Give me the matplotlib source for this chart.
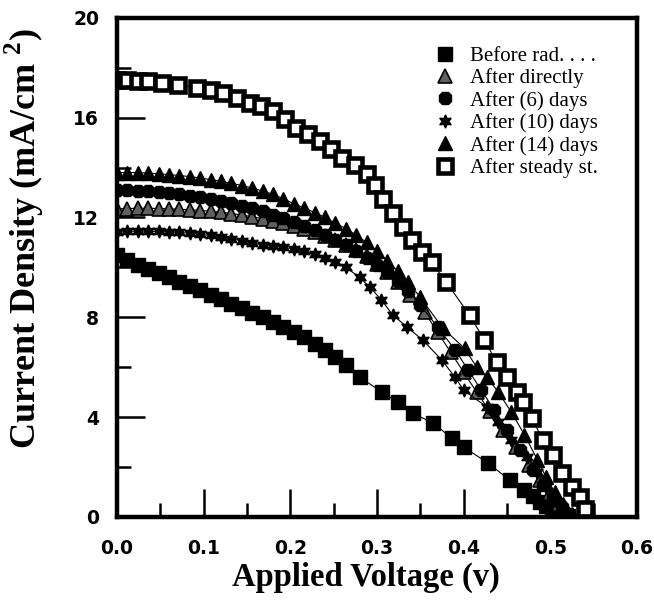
import matplotlib
matplotlib.use("Agg")
import matplotlib.pyplot as plt
from matplotlib.ticker import MultipleLocator

# ---- data (V in volts, J in mA/cm^2) ----
v_before = [0.0, 0.012, 0.024, 0.036, 0.048, 0.06, 0.072, 0.084, 0.096, 0.108, 0.12, 0.132,
            0.144, 0.156, 0.168, 0.18, 0.192, 0.204, 0.216, 0.228, 0.24, 0.252, 0.264, 0.28,
            0.306, 0.324, 0.341, 0.365, 0.386, 0.4, 0.428, 0.453, 0.47, 0.48, 0.488, 0.495,
            0.502, 0.508, 0.514, 0.52]
j_before = [10.5, 10.3, 10.1, 9.95, 9.78, 9.6, 9.42, 9.26, 9.08, 8.9, 8.72, 8.54,
            8.36, 8.18, 8.0, 7.8, 7.62, 7.42, 7.2, 6.95, 6.68, 6.4, 6.1, 5.6,
            5.0, 4.6, 4.16, 3.76, 3.16, 2.8, 2.16, 1.48, 1.1, 0.85, 0.6, 0.45,
            0.3, 0.2, 0.1, 0.02]

v_direct = [0.0, 0.012, 0.024, 0.036, 0.048, 0.06, 0.072, 0.084, 0.096, 0.108, 0.12, 0.132,
            0.144, 0.156, 0.168, 0.18, 0.192, 0.204, 0.216, 0.228, 0.24, 0.252, 0.264, 0.276,
            0.288, 0.3, 0.312, 0.324, 0.338, 0.355, 0.37, 0.385, 0.4, 0.415, 0.43, 0.445,
            0.46, 0.475, 0.488, 0.5, 0.51, 0.52]
j_direct = [12.35, 12.36, 12.37, 12.37, 12.36, 12.35, 12.33, 12.31, 12.28, 12.25, 12.21, 12.16,
            12.1, 12.03, 11.95, 11.86, 11.76, 11.65, 11.53, 11.4, 11.25, 11.08, 10.9, 10.68,
            10.44, 10.15, 9.8, 9.4, 8.9, 8.2, 7.4, 6.6, 5.8, 5.0, 4.25, 3.5,
            2.8, 2.1, 1.5, 0.95, 0.5, 0.15]

v_6days = [0.0, 0.012, 0.024, 0.036, 0.048, 0.06, 0.072, 0.084, 0.096, 0.108, 0.12, 0.132,
           0.144, 0.156, 0.168, 0.18, 0.192, 0.204, 0.216, 0.228, 0.24, 0.252, 0.264, 0.276,
           0.288, 0.3, 0.312, 0.324, 0.336, 0.35, 0.37, 0.39, 0.405, 0.42, 0.435, 0.45,
           0.465, 0.48, 0.492, 0.503, 0.513, 0.522]
j_6days = [13.1, 13.1, 13.08, 13.05, 13.02, 12.98, 12.93, 12.88, 12.82, 12.75, 12.67, 12.58,
           12.48, 12.37, 12.25, 12.12, 11.98, 11.83, 11.67, 11.5, 11.3, 11.1, 10.88, 10.64,
           10.38, 10.1, 9.8, 9.45, 9.05, 8.5, 7.6, 6.7, 5.9, 5.1, 4.3, 3.5,
           2.7, 1.9, 1.3, 0.8, 0.4, 0.1]

v_10days = [0.0, 0.012, 0.024, 0.036, 0.048, 0.06, 0.072, 0.084, 0.096, 0.108, 0.12, 0.132,
            0.144, 0.156, 0.168, 0.18, 0.192, 0.204, 0.216, 0.228, 0.24, 0.252, 0.264, 0.28,
            0.292, 0.305, 0.318, 0.335, 0.353, 0.375, 0.39, 0.4, 0.427, 0.44, 0.455, 0.473,
            0.485, 0.495, 0.505, 0.513, 0.52]
j_10days = [11.4, 11.45, 11.45, 11.45, 11.44, 11.42, 11.4, 11.37, 11.33, 11.28, 11.22, 11.15,
            11.07, 10.98, 10.9, 10.85, 10.8, 10.75, 10.65, 10.52, 10.38, 10.2, 10.0, 9.6,
            9.2, 8.7, 8.1, 7.6, 7.08, 6.28, 5.6, 5.08, 4.4, 3.8, 3.1, 2.4,
            1.8, 1.2, 0.7, 0.35, 0.1]

v_14days = [0.0, 0.012, 0.024, 0.036, 0.048, 0.06, 0.072, 0.084, 0.096, 0.108, 0.12, 0.132,
            0.144, 0.156, 0.168, 0.18, 0.192, 0.204, 0.216, 0.228, 0.24, 0.252, 0.264, 0.276,
            0.288, 0.3, 0.312, 0.324, 0.336, 0.35, 0.376, 0.401, 0.415, 0.427, 0.44, 0.455,
            0.47, 0.485, 0.495, 0.505, 0.515, 0.525]
j_14days = [13.8, 13.8, 13.8, 13.78, 13.75, 13.72, 13.68, 13.64, 13.58, 13.52, 13.45, 13.37,
            13.28, 13.18, 13.06, 12.93, 12.75, 12.55, 12.38, 12.2, 12.0, 11.78, 11.55, 11.3,
            11.0, 10.65, 10.25, 9.85, 9.4, 8.8, 7.56, 6.76, 6.0, 5.6, 5.0, 4.2,
            3.3, 2.3, 1.6, 1.0, 0.5, 0.1]

v_steady = [0.0, 0.012, 0.024, 0.036, 0.052, 0.07, 0.092, 0.108, 0.122, 0.138, 0.153, 0.166,
            0.18, 0.194, 0.207, 0.22, 0.234, 0.247, 0.26, 0.274, 0.288, 0.298, 0.307, 0.318,
            0.33, 0.34, 0.352, 0.363, 0.38, 0.407, 0.424, 0.438, 0.45, 0.461, 0.468, 0.479,
            0.491, 0.503, 0.514, 0.525, 0.534, 0.54]
j_steady = [17.5, 17.5, 17.48, 17.45, 17.4, 17.32, 17.2, 17.1, 17.0, 16.8, 16.6, 16.45,
            16.28, 15.95, 15.6, 15.35, 15.08, 14.75, 14.4, 14.1, 13.76, 13.3, 12.75, 12.2,
            11.6, 11.1, 10.6, 10.2, 9.4, 8.08, 7.08, 6.2, 5.6, 5.0, 4.6, 3.96,
            3.08, 2.48, 1.76, 1.2, 0.8, 0.3]

labels = ["Before rad. . . .", "After directly", "After (6) days",
          "After (10) days", "After (14) days", "After steady st."]

# ---- fonts ----
plt.rcParams['mathtext.fontset'] = 'custom'
plt.rcParams['mathtext.bf'] = 'Liberation Serif:bold'
plt.rcParams['mathtext.rm'] = 'Liberation Serif:bold'

fig = plt.figure(figsize=(6.54, 6.05), dpi=100)
ax = fig.add_axes([0.179, 0.1455, 0.795, 0.825])

line_kw = dict(color='black', linewidth=0.8, markersize=9.5)
ax.plot(v_before, j_before, marker='s', mfc='black', mec='black', label=labels[0], **line_kw)
ax.plot(v_direct, j_direct, marker='^', mfc='#606060', mec='black', mew=1.2, label=labels[1], **line_kw)
ax.plot(v_6days, j_6days, marker='8', mfc='black', mec='black', label=labels[2], **line_kw)
ax.plot(v_10days, j_10days, marker=(6, 1, 0), mfc='black', mec='black', label=labels[3], **line_kw)
ax.plot(v_14days, j_14days, marker='^', mfc='black', mec='black', label=labels[4], **line_kw)
ax.plot(v_steady, j_steady, marker='s', mfc='white', mec='black', mew=3.3, label=labels[5], **line_kw)

ax.set_xlim(0, 0.6)
ax.set_ylim(0, 20)
ax.xaxis.set_major_locator(MultipleLocator(0.1))
ax.xaxis.set_minor_locator(MultipleLocator(0.05))
ax.yaxis.set_major_locator(MultipleLocator(4))
ax.yaxis.set_minor_locator(MultipleLocator(2))
ax.xaxis.set_major_formatter(lambda x, pos: f"{x:.1f}")

ax.tick_params(which='major', direction='in', length=20, width=1.8)
ax.tick_params(which='minor', direction='in', length=10, width=1.8)
ax.tick_params(axis='x', pad=16)
ax.tick_params(axis='y', pad=13)
for lab in ax.get_xticklabels() + ax.get_yticklabels():
    lab.set_fontfamily('DejaVu Sans')
    lab.set_fontweight('bold')
    lab.set_fontsize(13.5)

for side in ['left', 'right', 'top', 'bottom']:
    ax.spines[side].set_linewidth(3.2)

ax.set_xlabel('Applied Voltage (v)', fontfamily='Liberation Serif', fontweight='bold',
              fontsize=23.5)
ax.xaxis.set_label_coords(0.479, -0.089)
ax.set_ylabel(r'Current Density (mA/cm $^{\mathbf{2}}$)', fontfamily='Liberation Serif',
              fontweight='bold', fontsize=26)
ax.yaxis.set_label_coords(-0.137, 0.557)

leg = ax.legend(loc='upper left', bbox_to_anchor=(0.619, 0.943), frameon=False,
                prop={'family': 'Liberation Serif', 'size': 15},
                handlelength=0.6, handletextpad=0.9, labelspacing=0.12,
                borderaxespad=0, borderpad=0)
for h in leg.get_lines():
    h.set_linestyle('none')

fig.savefig('out.png', dpi=100)
